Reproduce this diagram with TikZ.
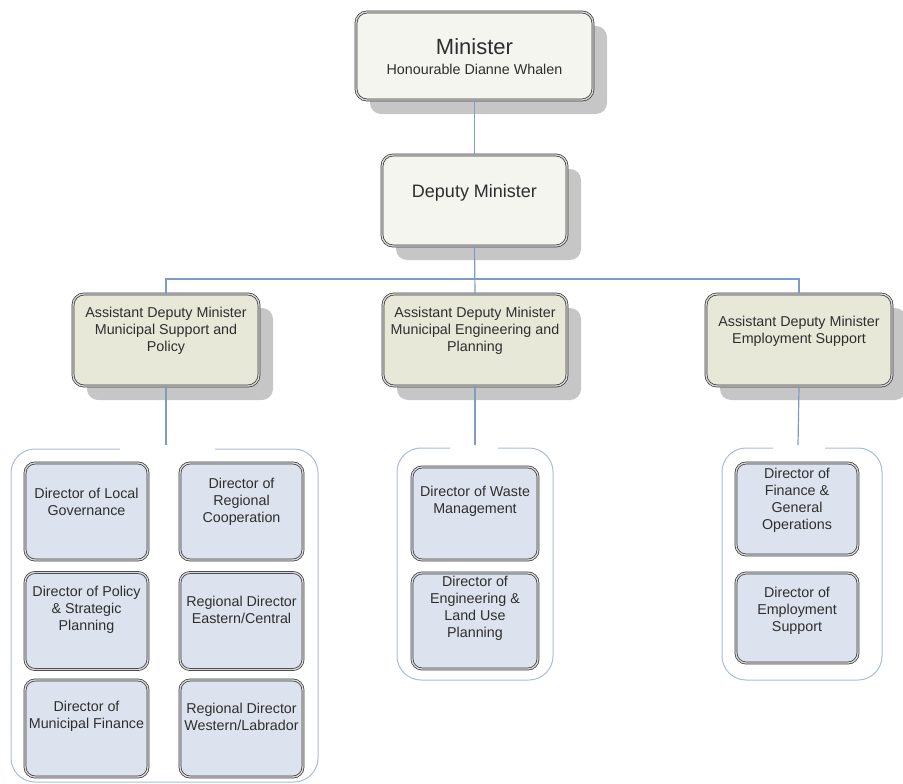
\documentclass[tikz,border=0pt]{standalone}
\usepackage{fontspec}
\setmainfont{Liberation Sans}
\usetikzlibrary{shadows}
\definecolor{connc}{HTML}{7F9CC6}
\definecolor{contc}{HTML}{A9BDDA}
\definecolor{topfill}{HTML}{F3F5EE}
\definecolor{admfill}{HTML}{E8E8D9}
\definecolor{dirfill}{HTML}{DDE3EE}
\definecolor{edgec}{HTML}{3A3A3A}
\definecolor{gapc}{HTML}{D8D8D8}
\definecolor{txtc}{HTML}{2E2E2E}
\definecolor{shadc}{HTML}{C6C6C6}
\begin{document}
\begin{tikzpicture}[x=1pt,y=-1pt,
  boxbase/.style={draw=edgec, double=gapc, double distance=1.3pt, line width=0.75pt,
    rounded corners=11pt, inner sep=0pt, rectangle},
  topbox/.style={boxbase, fill=topfill, drop shadow={shadow xshift=14pt, shadow yshift=-14pt, opacity=1, fill=shadc}},
  admbox/.style={boxbase, fill=admfill, drop shadow={shadow xshift=14pt, shadow yshift=-14pt, opacity=1, fill=shadc}},
  dirbox/.style={boxbase, fill=dirfill, rounded corners=10pt},
  txt/.style={text=txtc, align=center, inner sep=0pt, font=\fontsize{14.3}{17}\selectfont},
  conn/.style={draw=connc, line width=1.2pt},
  cont/.style={draw=contc, line width=1pt, rounded corners=24pt}]
\useasboundingbox (0,0) rectangle (903,784);

% top boxes
\node[topbox, minimum width=237pt, minimum height=88pt] (min) at (474.5,56) {};
\node[txt, anchor=base, font=\fontsize{22}{24}\selectfont] (mint) at (474.5,55) {Minister};
\node[txt, anchor=base] (minn) at (474.5,75) {Honourable Dianne Whalen};

\node[topbox, minimum width=185pt, minimum height=91pt] (dep) at (474.5,200.5) {};
\node[txt, anchor=base, font=\fontsize{18}{20}\selectfont] (dept) at (474.5,197) {Deputy Minister};

% ADM boxes
\node[admbox, minimum width=186pt, minimum height=92pt] (adm1) at (166,340) {};
\node[admbox, minimum width=184pt, minimum height=92pt] (adm2) at (475,340) {};
\node[admbox, minimum width=186pt, minimum height=92pt] (adm3) at (799,340) {};
\node[txt] (adm1t) at (166,331) {Assistant Deputy Minister\\Municipal Support and\\Policy};
\node[txt] (adm2t) at (475,331) {Assistant Deputy Minister\\Municipal Engineering and\\Planning};
\node[txt] (adm3t) at (799,331) {Assistant Deputy Minister\\Employment Support};

% connectors
\coordinate (bus) at (474.5,279);
\draw[conn] (min.south) -- (dep.south |- min.south) -- (dep.north);
\draw[conn] (dep.south) -- (adm2.north);
\draw[conn] (adm1.north) |- (bus) -| (adm3.north);

% containers
\coordinate (g1in) at (166,445);
\coordinate (g2in) at (475,445);
\coordinate (g3in) at (798,445);
\draw[conn] (adm1.south) -- (g1in);
\draw[conn] (adm2.south) -- (g2in);
\draw[conn] (adm3.south) -- (g3in);
\draw[cont] (215,449) -- (318,449) -- (318,782) -- (11,782) -- (11,449) -- (120,449);
\draw[cont] (498,448) -- (553,448) -- (553,680) -- (397,680) -- (397,448) -- (450,448);
\draw[cont] (825,448) -- (882,448) -- (882,680) -- (722,680) -- (722,448) -- (773,448);

% group 1 directors
\node[dirbox, minimum width=123pt, minimum height=97pt] (d11) at (86.5,511.5) {};
\node[dirbox, minimum width=123pt, minimum height=97pt] (d12) at (241.5,511.5) {};
\node[dirbox, minimum width=123pt, minimum height=97pt] (d21) at (86.5,621) {};
\node[dirbox, minimum width=123pt, minimum height=97pt] (d22) at (241.5,621) {};
\node[dirbox, minimum width=123pt, minimum height=97pt] (d31) at (86.5,728.5) {};
\node[dirbox, minimum width=123pt, minimum height=97pt] (d32) at (241.5,728.5) {};
\node[txt] at ([yshift=-39pt]d11.north) {Director of Local\\Governance};
\node[txt] at ([yshift=-39pt]d12.north) {Director of\\Regional\\Cooperation};
\node[txt] at ([yshift=-38pt]d21.north) {Director of Policy\\\&\ Strategic\\Planning};
\node[txt] at ([yshift=-38pt]d22.north) {Regional Director\\Eastern/Central};
\node[txt] at ([yshift=-37pt]d31.north) {Director of\\Municipal Finance};
\node[txt] at ([yshift=-37pt]d32.north) {Regional Director\\Western/Labrador};

% group 2 directors
\node[dirbox, minimum width=126pt, minimum height=93pt] (e1) at (475,513.5) {};
\node[dirbox, minimum width=126pt, minimum height=96pt] (e2) at (475,621) {};
\node[txt] at ([yshift=-35pt]e1.north) {Director of Waste\\Management};
\node[txt] at ([yshift=-36pt]e2.north) {Director of\\Engineering \&\\Land Use\\Planning};

% group 3 directors
\node[dirbox, minimum width=122pt, minimum height=92pt] (f1) at (797,509) {};
\node[dirbox, minimum width=122pt, minimum height=90pt] (f2) at (797,618) {};
\node[txt] at ([yshift=-38pt]f1.north) {Director of\\Finance \&\\General\\Operations};
\node[txt] at ([yshift=-38pt]f2.north) {Director of\\Employment\\Support};
\end{tikzpicture}
\end{document}
